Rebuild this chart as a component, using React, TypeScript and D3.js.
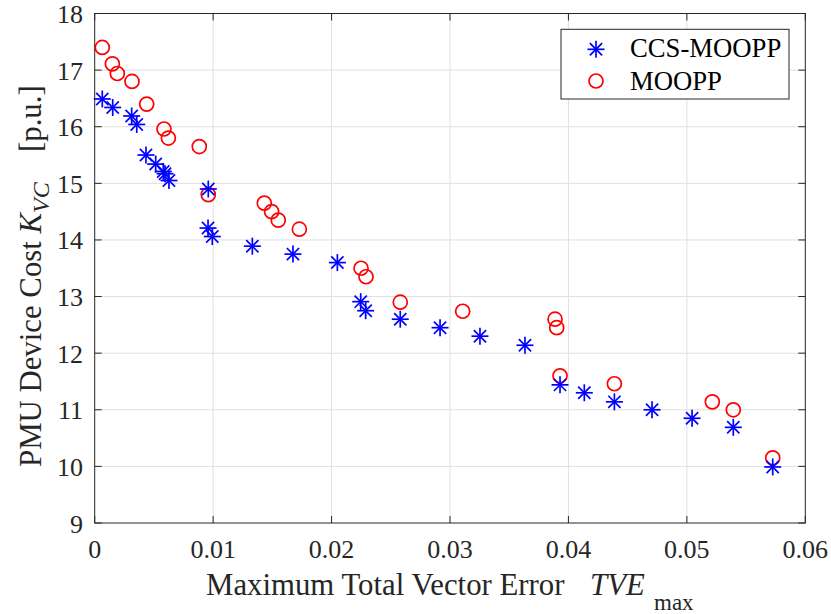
import React from "react";
import * as d3 from "d3";

const ccsX = [0.00064, 0.00152, 0.00312, 0.00355, 0.00433, 0.00515, 0.00579, 0.00594, 0.00627, 0.00959, 0.00957, 0.00993, 0.01331, 0.01674, 0.02049, 0.02246, 0.02288, 0.0258, 0.02916, 0.03253, 0.03633, 0.03929, 0.04134, 0.04388, 0.04706, 0.05044, 0.05392, 0.05725];
const ccsY = [16.49, 16.34, 16.19, 16.04, 15.5, 15.34, 15.21, 15.17, 15.05, 14.9, 14.21, 14.06, 13.89, 13.75, 13.6, 12.91, 12.75, 12.6, 12.45, 12.3, 12.14, 11.44, 11.3, 11.14, 11.0, 10.85, 10.69, 9.99];

const mooppX = [0.00064, 0.00149, 0.00191, 0.00315, 0.00439, 0.00585, 0.00622, 0.00883, 0.00959, 0.01432, 0.01494, 0.0155, 0.01728, 0.02249, 0.02291, 0.0258, 0.03107, 0.03887, 0.03901, 0.03929, 0.04388, 0.05215, 0.05392, 0.05725];
const mooppY = [17.4, 17.11, 16.94, 16.8, 16.4, 15.96, 15.8, 15.65, 14.8, 14.65, 14.5, 14.35, 14.19, 13.5, 13.35, 12.9, 12.74, 12.6, 12.45, 11.6, 11.46, 11.14, 11.0, 10.15];

const xTicks = [0, 0.01, 0.02, 0.03, 0.04, 0.05, 0.06];
const xTickLabels = ["0", "0.01", "0.02", "0.03", "0.04", "0.05", "0.06"];
const yTicks = [9, 10, 11, 12, 13, 14, 15, 16, 17, 18];

const seriesNames = ["CCS-MOOPP", "MOOPP"];

const FONT = "'Liberation Serif', 'Times New Roman', serif";
const AX = "#262626";
const GRID = "#e0e0e0";

function Star({ cx, cy, r = 8.5 }: { cx: number; cy: number; r?: number }) {
  const d = r * 0.72;
  return (
    <g stroke="#0000ff" strokeWidth={1.7} fill="none">
      <line x1={cx - r} y1={cy} x2={cx + r} y2={cy} />
      <line x1={cx} y1={cy - r} x2={cx} y2={cy + r} />
      <line x1={cx - d} y1={cy - d} x2={cx + d} y2={cy + d} />
      <line x1={cx - d} y1={cy + d} x2={cx + d} y2={cy - d} />
    </g>
  );
}

function Circ({ cx, cy }: { cx: number; cy: number }) {
  return <circle cx={cx} cy={cy} r={7} fill="none" stroke="#ff0000" strokeWidth={1.7} />;
}

export default function App() {
  const L = 94.7, R = 805.3, T = 13.5, B = 523;
  const x = d3.scaleLinear().domain([0, 0.06]).range([L, R]);
  const y = d3.scaleLinear().domain([9, 18]).range([B, T]);
  const tl = 7;

  return (
    <svg width={831} height={614} style={{ position: "absolute", left: 0, top: 0, background: "#fff" }} fontFamily={FONT}>
      <rect x={0} y={0} width={831} height={614} fill="#fff" />
      {xTicks.slice(1, -1).map((t) => (
        <line key={"gx" + t} x1={x(t)} x2={x(t)} y1={T} y2={B} stroke={GRID} strokeWidth={1} />
      ))}
      {yTicks.slice(1, -1).map((t) => (
        <line key={"gy" + t} x1={L} x2={R} y1={y(t)} y2={y(t)} stroke={GRID} strokeWidth={1} />
      ))}
      {xTicks.map((t) => (
        <g key={"tx" + t} stroke={AX} strokeWidth={1}>
          <line x1={x(t)} x2={x(t)} y1={B} y2={B - tl} />
          <line x1={x(t)} x2={x(t)} y1={T} y2={T + tl} />
        </g>
      ))}
      {yTicks.map((t) => (
        <g key={"ty" + t} stroke={AX} strokeWidth={1}>
          <line x1={L} x2={L + tl} y1={y(t)} y2={y(t)} />
          <line x1={R} x2={R - tl} y1={y(t)} y2={y(t)} />
        </g>
      ))}
      <rect x={L} y={T} width={R - L} height={B - T} fill="none" stroke={AX} strokeWidth={1} />
      {xTicks.map((t, i) => (
        <text key={"lx" + t} x={x(t)} y={558} textAnchor="middle" fontSize={26} fill={AX}>
          {xTickLabels[i]}
        </text>
      ))}
      {yTicks.map((t) => (
        <text key={"ly" + t} x={83} y={y(t) + 9.5} textAnchor="end" fontSize={26} fill={AX}>
          {t}
        </text>
      ))}
      {mooppX.map((v, i) => (
        <Circ key={"m" + i} cx={x(v)} cy={y(mooppY[i])} />
      ))}
      {ccsX.map((v, i) => (
        <Star key={"c" + i} cx={x(v)} cy={y(ccsY[i])} />
      ))}
      <text y={595} fontSize={30.8} fill={AX}>
        <tspan x={206}>Maximum Total Vector Error</tspan>
        <tspan x={590} fontStyle="italic">TVE</tspan>
        <tspan x={654} y={610} fontSize={23}>max</tspan>
      </text>
      <text transform="rotate(-90)" fontSize={30.8} fill={AX}>
        <tspan x={-467} y={41}>PMU Device Cost </tspan>
        <tspan fontStyle="italic">K</tspan>
        <tspan fontStyle="italic" fontSize={24} dy={8}>VC</tspan>
        <tspan x={-152} y={41}>[p.u.]</tspan>
      </text>
      <rect x={561} y={29.3} width={228} height={69.7} fill="#fff" stroke={AX} strokeWidth={1} />
      <Star cx={596} cy={49.3} />
      <Circ cx={596} cy={81} />
      <text x={630} y={57.3} fontSize={26.7} fill="#000">{seriesNames[0]}</text>
      <text x={630} y={90} fontSize={26.7} fill="#000">{seriesNames[1]}</text>
    </svg>
  );
}
